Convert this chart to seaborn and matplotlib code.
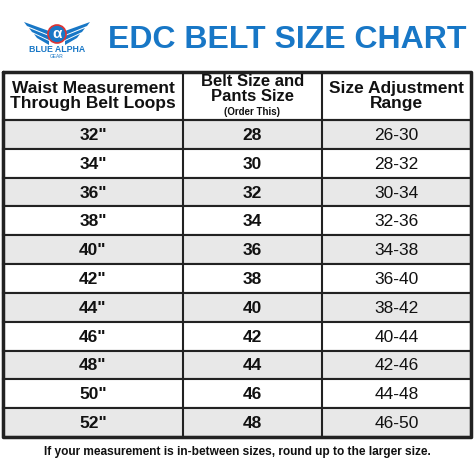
import matplotlib
matplotlib.use("Agg")
import matplotlib.pyplot as plt
import seaborn as sns
from matplotlib.patches import Circle, Polygon

sns.set_theme(style="white")
plt.rcParams['font.family'] = ['Liberation Sans', 'DejaVu Sans']

waist = ['32"', '34"', '36"', '38"', '40"', '42"', '44"', '46"', '48"', '50"', '52"']
belt = ['28', '30', '32', '34', '36', '38', '40', '42', '44', '46', '48']
adjust = ['26-30', '28-32', '30-34', '32-36', '34-38', '36-40', '38-42', '40-44', '42-46', '44-48', '46-50']

fig = plt.figure(figsize=(4.74, 4.70), dpi=100)
ax = fig.add_axes([0, 0, 1, 1])
ax.set_xlim(0, 474); ax.set_ylim(470, 0); ax.axis('off')

blue = '#1877c6'
# logo
for s in (-1, 1):
    for k in range(3):
        ax.add_patch(Polygon([[57 + s*8, 31 + k*5], [57 + s*(33 - k*5), 22 + k*6], [57 + s*(30 - k*5), 26 + k*6], [57 + s*8, 35 + k*5]], color=blue, lw=0))
ax.add_patch(Circle((57, 34), 9, facecolor=blue, edgecolor='#d33', lw=1.2))
ax.text(57, 34.5, 'α', color='white', fontsize=11, ha='center', va='center', fontweight='bold')
ax.text(57, 50, 'BLUE ALPHA', color=blue, fontsize=6.3, ha='center', va='center', fontweight='bold')
ax.text(57, 57, 'GEAR', color=blue, fontsize=3.5, ha='center', va='center')
ax.text(287, 40, 'EDC BELT SIZE CHART', color=blue, fontsize=23, ha='center', va='center', fontweight='heavy')

x0, x1, x2, x3 = 3, 183, 322, 471
ytop, yh = 72, 120
rh = (437 - yh) / len(waist)
ys = [yh + i * rh for i in range(len(waist))]
shade = ['#e8e8e8' if i % 2 == 0 else 'white' for i in range(len(waist))]
ax.barh([y + rh / 2 for y in ys], [x3 - x0] * len(ys), height=rh, left=x0, color=shade, edgecolor='#222', lw=1.5)
for x in (x1, x2):
    ax.plot([x, x], [ytop, 437], color='#222', lw=1.5)
ax.plot([x0, x3, x3, x0, x0], [ytop, ytop, 437, 437, ytop], color='#222', lw=2.5)
ax.plot([x0, x3], [yh, yh], color='#222', lw=1.5)

cx = [(x0 + x1) / 2, (x1 + x2) / 2, (x2 + x3) / 2]
ax.text(cx[0], 96, 'Waist Measurement\nThrough Belt Loops', ha='center', va='center', fontsize=12.5, fontweight='bold', color='#111', linespacing=1.05)
ax.text(cx[1], 89, 'Belt Size and\nPants Size', ha='center', va='center', fontsize=12, fontweight='bold', color='#111', linespacing=1.0)
ax.text(cx[1], 112, '(Order This)', ha='center', va='center', fontsize=7, fontweight='bold', color='#111')
ax.text(cx[2], 96, 'Size Adjustment\nRange', ha='center', va='center', fontsize=12.5, fontweight='bold', color='#111', linespacing=1.05)

for i, y in enumerate(ys):
    yc = y + rh / 2 + 1
    ax.text(cx[0], yc, waist[i], ha='center', va='center', fontsize=12.5, fontweight='bold', color='#111')
    ax.text(cx[1], yc, belt[i], ha='center', va='center', fontsize=12.5, fontweight='bold', color='#111')
    ax.text(cx[2], yc, adjust[i], ha='center', va='center', fontsize=12.5, color='#111')

ax.text(237, 452, 'If your measurement is in-between sizes, round up to the larger size.', ha='center', va='center', fontsize=8.6, fontweight='bold', color='#111')
fig.savefig('out.png', dpi=100)
